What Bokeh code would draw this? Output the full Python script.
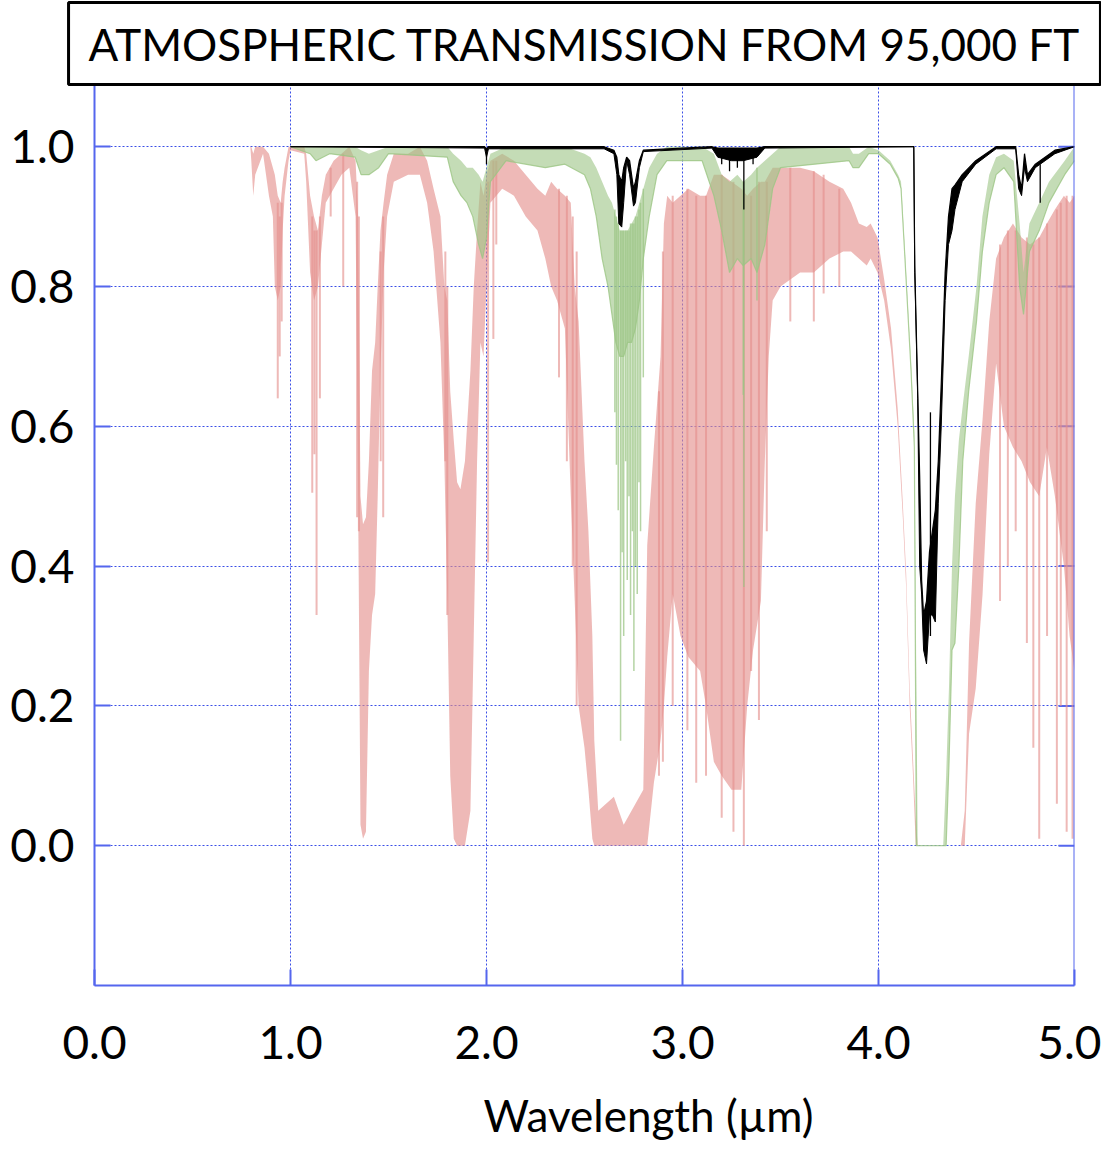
import numpy as np
from bokeh.plotting import figure
from bokeh.models import Range1d, FixedTicker, Title, Span, PrintfTickFormatter
from bokeh.embed import file_html
from bokeh.resources import INLINE

# ---------------- data ----------------
# red series: wavelength (um), upper envelope, lower envelope
red_wl = [0.795, 0.80, 0.81, 0.82, 0.86, 0.89, 0.91, 0.92, 0.935, 0.95, 0.96, 0.97, 0.99, 1.0, 1.07, 1.08,
          1.10, 1.12, 1.14, 1.16, 1.18, 1.22, 1.26, 1.30, 1.332, 1.345, 1.357, 1.37, 1.385, 1.40, 1.416,
          1.432, 1.445, 1.459, 1.475, 1.493, 1.527, 1.60, 1.66, 1.697, 1.73, 1.765, 1.785, 1.80, 1.815,
          1.833, 1.85, 1.867, 1.89, 1.918, 1.935, 1.952, 1.969, 1.985, 2.0, 2.02, 2.08, 2.14, 2.20, 2.26,
          2.30, 2.33, 2.36, 2.40, 2.43, 2.45, 2.47, 2.50, 2.52, 2.54, 2.55, 2.57, 2.65, 2.70, 2.80, 2.82,
          2.854, 2.888, 2.905, 2.922, 2.95, 2.99, 3.03, 3.09, 3.12, 3.16, 3.20, 3.25, 3.30, 3.33, 3.36,
          3.40, 3.42, 3.44, 3.46, 3.50, 3.60, 3.67, 3.75, 3.82, 3.86, 3.90, 3.94, 3.96, 3.995, 4.029,
          4.064, 4.098, 4.124, 4.141, 4.159, 4.176, 4.19, 4.20, 4.42, 4.44, 4.462, 4.496, 4.531, 4.565,
          4.60, 4.64, 4.686, 4.73, 4.773, 4.82, 4.859, 4.90, 4.946, 4.975, 5.0]
red_hi = [1.0, 1.0, 0.99, 1.0, 1.0, 0.99, 0.97, 0.96, 0.93, 0.92, 0.95, 0.97, 1.0, 1.0, 1.0, 0.99,
          0.93, 0.90, 0.88, 0.93, 0.96, 0.98, 0.99, 1.0, 0.98, 0.90, 0.50, 0.46, 0.47, 0.55, 0.68,
          0.72, 0.80, 0.88, 0.92, 0.96, 0.99, 0.99, 1.0, 0.98, 0.94, 0.90, 0.80, 0.78, 0.65,
          0.58, 0.52, 0.51, 0.55, 0.68, 0.80, 0.88, 0.95, 0.93, 0.96, 0.98, 0.99, 0.98, 0.96, 0.94,
          0.93, 0.95, 0.94, 0.93, 0.92, 0.80, 0.75, 0.55, 0.45, 0.30, 0.15, 0.05, 0.07, 0.03, 0.08, 0.43,
          0.57, 0.70, 0.89, 0.93, 0.92, 0.93, 0.94, 0.93, 0.93, 0.96, 0.96, 0.95, 0.94, 0.93, 0.94,
          0.95, 0.95, 0.96, 0.97, 0.97, 0.97, 0.965, 0.95, 0.94, 0.92, 0.89, 0.885, 0.89, 0.87, 0.81,
          0.74, 0.625, 0.49, 0.39, 0.225, 0.125, 0.04, 0.0, 0.0, 0.05, 0.29, 0.49, 0.61, 0.75,
          0.84, 0.87, 0.89, 0.87, 0.86, 0.87, 0.89, 0.91, 0.93, 0.92, 0.93]
red_lo = [1.0, 0.98, 0.93, 0.96, 0.99, 0.93, 0.90, 0.80, 0.78, 0.80, 0.88, 0.93, 0.98, 0.995, 0.99, 0.95,
          0.82, 0.78, 0.80, 0.86, 0.92, 0.94, 0.96, 0.97, 0.90, 0.50, 0.03, 0.01, 0.02, 0.25, 0.33,
          0.36, 0.50, 0.68, 0.82, 0.90, 0.95, 0.96, 0.96, 0.92, 0.85, 0.72, 0.55, 0.35, 0.10,
          0.01, 0.0, 0.0, 0.0, 0.05, 0.30, 0.55, 0.72, 0.70, 0.80, 0.92, 0.94, 0.93, 0.90, 0.88,
          0.84, 0.80, 0.78, 0.74, 0.50, 0.35, 0.20, 0.14, 0.08, 0.01, 0.0, 0.0, 0.0, 0.0, 0.0, 0.0,
          0.09, 0.15, 0.20, 0.27, 0.36, 0.30, 0.27, 0.25, 0.20, 0.12, 0.10, 0.08, 0.08, 0.20, 0.28,
          0.35, 0.55, 0.70, 0.78, 0.80, 0.82, 0.82, 0.84, 0.85, 0.85, 0.84, 0.83, 0.84, 0.82, 0.78,
          0.71, 0.60, 0.47, 0.37, 0.20, 0.10, 0.0, 0.0, 0.0, 0.0, 0.16, 0.225, 0.36, 0.56,
          0.69, 0.60, 0.57, 0.55, 0.52, 0.50, 0.57, 0.50, 0.40, 0.30, 0.25]
# individual deep lines (red): wavelength, top, bottom
red_sp_wl = [0.935, 0.945, 0.955, 1.111, 1.122, 1.133, 1.15, 1.205, 1.269, 1.34, 1.349, 1.46, 1.473,
             1.79, 1.80, 2.008, 2.035, 2.05, 2.37, 2.41, 2.44, 2.46, 2.88, 2.90, 2.95, 3.025, 3.07,
             3.12, 3.20, 3.26, 3.313, 3.35, 3.39, 3.43, 3.55, 3.67, 3.72, 3.80, 4.62, 4.66, 4.70,
             4.757, 4.79, 4.82, 4.86, 4.91, 4.93, 4.96, 4.99]
red_sp_top = [0.92, 0.90, 0.92, 0.90, 0.88, 0.88, 0.90, 0.97, 0.99, 0.95, 0.90, 0.85, 0.90,
              0.85, 0.80, 0.95, 0.98, 0.98, 0.94, 0.93, 0.90, 0.85, 0.65, 0.85, 0.93, 0.94, 0.93,
              0.93, 0.96, 0.95, 0.94, 0.93, 0.95, 0.95, 0.97, 0.965, 0.96, 0.94, 0.86, 0.88, 0.88,
              0.87, 0.86, 0.87, 0.89, 0.91, 0.92, 0.93, 0.93]
red_sp_bot = [0.64, 0.70, 0.75, 0.505, 0.56, 0.33, 0.64, 0.90, 0.80, 0.47, 0.45, 0.55, 0.47,
              0.55, 0.33, 0.405, 0.725, 0.86, 0.67, 0.55, 0.40, 0.20, 0.10, 0.12, 0.20, 0.165, 0.09,
              0.10, 0.04, 0.02, 0.0, 0.25, 0.18, 0.45, 0.75, 0.75, 0.79, 0.80, 0.35, 0.40, 0.45,
              0.29, 0.14, 0.01, 0.30, 0.06, 0.20, 0.02, 0.01]

# green series
grn_wl = [1.0, 1.10, 1.13, 1.20, 1.33, 1.36, 1.40, 1.45, 1.50, 1.80, 1.83, 1.87, 1.90, 1.93, 1.96, 1.98,
          2.0, 2.02, 2.10, 2.30, 2.40, 2.50, 2.53, 2.56, 2.59, 2.62, 2.64, 2.66, 2.68, 2.70, 2.72, 2.74,
          2.76, 2.78, 2.80, 2.83, 2.87, 2.92, 3.10, 3.16, 3.20, 3.24, 3.28, 3.31, 3.35, 3.38, 3.42,
          3.46, 3.50, 3.85, 3.87, 3.90, 3.95, 4.0, 4.06, 4.10, 4.115, 4.133, 4.166, 4.183, 4.193, 4.20,
          4.33, 4.345, 4.36, 4.375, 4.39, 4.41, 4.43, 4.46, 4.50, 4.53, 4.565, 4.60, 4.64, 4.69, 4.72,
          4.74, 4.77, 4.82, 4.87, 4.95, 5.0]
grn_hi = [1.0, 1.0, 1.0, 1.0, 1.0, 0.995, 0.99, 0.995, 1.0, 1.0, 0.99, 0.98, 0.97, 0.97, 0.96, 0.95,
          0.97, 0.99, 1.0, 1.0, 1.0, 0.99, 0.985, 0.97, 0.95, 0.93, 0.92, 0.90, 0.88, 0.88, 0.88, 0.89,
          0.90, 0.92, 0.94, 0.97, 0.99, 1.0, 1.0, 0.99, 0.96, 0.95, 0.96, 0.95, 0.96, 0.97, 0.98,
          0.99, 1.0, 1.0, 0.99, 0.99, 1.0, 0.995, 0.98, 0.96, 0.95, 0.86, 0.69, 0.59, 0.24, 0.0,
          0.0, 0.10, 0.23, 0.40, 0.50, 0.58, 0.63, 0.70, 0.80, 0.90, 0.96, 0.985, 0.99, 0.98, 0.89,
          0.82, 0.89, 0.92, 0.95, 0.98, 1.0]
grn_lo = [1.0, 0.99, 0.98, 0.99, 0.985, 0.96, 0.96, 0.97, 0.99, 0.985, 0.95, 0.93, 0.92, 0.90, 0.86, 0.84,
          0.87, 0.95, 0.98, 0.97, 0.975, 0.96, 0.94, 0.90, 0.84, 0.80, 0.76, 0.72, 0.70, 0.70, 0.72, 0.72,
          0.74, 0.78, 0.84, 0.90, 0.96, 0.98, 0.98, 0.93, 0.88, 0.82, 0.84, 0.83, 0.84, 0.82, 0.86,
          0.94, 0.97, 0.98, 0.97, 0.97, 0.99, 0.99, 0.975, 0.955, 0.94, 0.85, 0.68, 0.57, 0.0, 0.0,
          0.0, 0.0, 0.12, 0.28, 0.29, 0.40, 0.55, 0.65, 0.75, 0.85, 0.92, 0.96, 0.97, 0.95, 0.80,
          0.76, 0.85, 0.88, 0.92, 0.96, 0.98]
grn_sp_wl = [2.655, 2.663, 2.672, 2.684, 2.692, 2.70, 2.71, 2.718, 2.727, 2.735, 2.744, 2.752, 2.76,
             2.769, 2.778, 2.786, 2.80, 3.31, 3.313, 3.38]
grn_sp_top = [0.91, 0.90, 0.89, 0.88, 0.88, 0.88, 0.88, 0.88, 0.88, 0.89, 0.89, 0.89, 0.90,
              0.90, 0.91, 0.92, 0.94, 0.95, 0.95, 0.97]
grn_sp_bot = [0.62, 0.545, 0.48, 0.15, 0.42, 0.30, 0.55, 0.38, 0.50, 0.33, 0.45, 0.25, 0.40,
              0.36, 0.52, 0.45, 0.67, 0.645, 0.37, 0.78]

# black series (95,000 ft)
blk_wl = [1.0, 1.99, 2.0, 2.01, 2.60, 2.65, 2.665, 2.675, 2.69, 2.70, 2.715, 2.73, 2.75, 2.76, 2.78,
          2.80, 3.15, 3.18, 3.25, 3.31, 3.38, 3.42, 4.18, 4.185, 4.20, 4.21, 4.22, 4.23, 4.245, 4.26,
          4.275, 4.29, 4.305, 4.32, 4.34, 4.357, 4.375, 4.39, 4.427, 4.496, 4.60, 4.70, 4.715, 4.73,
          4.745, 4.76, 4.80, 4.85, 4.90, 5.0]
blk_hi = [1.0, 1.0, 0.997, 1.0, 1.0, 0.995, 0.985, 0.96, 0.95, 0.97, 0.985, 0.98, 0.94, 0.95, 0.98,
          0.995, 1.0, 0.998, 0.998, 0.998, 0.998, 1.0, 1.0, 0.83, 0.65, 0.53, 0.38, 0.33, 0.35, 0.42,
          0.45, 0.48, 0.55, 0.66, 0.82, 0.90, 0.94, 0.945, 0.96, 0.98, 1.0, 1.0, 0.96, 0.94,
          0.99, 0.96, 0.975, 0.985, 0.995, 1.0]
blk_lo = [1.0, 0.998, 0.985, 0.997, 0.997, 0.99, 0.96, 0.89, 0.885, 0.92, 0.98, 0.96, 0.915, 0.92, 0.97,
          0.993, 0.998, 0.985, 0.98, 0.98, 0.985, 0.998, 1.0, 0.82, 0.64, 0.40, 0.36, 0.28, 0.26, 0.33,
          0.33, 0.32, 0.49, 0.60, 0.78, 0.86, 0.88, 0.91, 0.95, 0.975, 0.997, 0.997, 0.94, 0.93,
          0.97, 0.95, 0.97, 0.98, 0.99, 1.0]
blk_sp_wl = [2.0, 3.20, 3.24, 3.28, 3.313, 3.36, 4.265, 4.825]
blk_sp_top = [0.99, 0.995, 0.995, 0.995, 0.995, 0.995, 0.62, 0.975]
blk_sp_bot = [0.975, 0.975, 0.965, 0.97, 0.91, 0.975, 0.30, 0.92]

x_ticks = [0, 1, 2, 3, 4, 5]
y_ticks = [0.0, 0.2, 0.4, 0.6, 0.8, 1.0]
title_text = "ATMOSPHERIC TRANSMISSION FROM 95,000 FT"
x_title = "Wavelength (µm)"

# ---------------- styling ----------------
BLUE = "#5566ee"
GRID = "#3a4ee6"
RED = "#e38e8b"
GREEN = "#9cc585"
FONT = "Lato"

p = figure(width=1101, height=1152, output_backend="svg", toolbar_location=None,
           x_range=Range1d(0, 5), y_range=Range1d(-0.2, 1.089),
           frame_width=980, frame_height=901,
           min_border_left=94, min_border_top=20, min_border_right=27, min_border_bottom=0)
p.background_fill_color = "white"
p.border_fill_color = "white"
p.outline_line_color = None

# title box on top
p.title = Title(text=title_text, align="center", text_font=FONT, text_font_size="44px",
                text_font_style="normal", text_color="black",
                border_line_color="black", border_line_width=3, background_fill_color="white",
                padding=(20, 15), standoff=0, offset=-4)

# axes
p.xaxis.ticker = FixedTicker(ticks=x_ticks)
p.yaxis.ticker = FixedTicker(ticks=y_ticks)
p.xaxis.formatter = PrintfTickFormatter(format="%.1f")
p.yaxis.formatter = PrintfTickFormatter(format="%.1f")
for ax in (p.xaxis[0], p.yaxis[0]):
    ax.axis_line_color = BLUE
    ax.axis_line_width = 2
    ax.major_tick_in = 16
    ax.major_tick_out = 0
    ax.major_tick_line_color = BLUE
    ax.major_tick_line_width = 2
    ax.minor_tick_line_color = None
    ax.major_label_text_font = FONT
    ax.major_label_text_font_size = "46px"
    ax.major_label_text_color = "black"
p.yaxis.major_label_standoff = 20
p.xaxis.major_label_standoff = 40

# x-axis title, shifted right as in the reference
p.add_layout(Title(text=x_title, align="left", offset=389, text_font=FONT,
                   text_font_size="44px", text_font_style="normal", text_color="black",
                   standoff=50), "below")

# right frame edge and inner ticks
p.add_layout(Span(location=5, dimension="height", line_color=BLUE, line_width=2))
p.ray(x=[x_ticks[-1]] * len(y_ticks), y=y_ticks, length=16, length_units="screen", angle=np.pi,
      line_color=BLUE, line_width=2)

p.xgrid.ticker = FixedTicker(ticks=[1, 2, 3, 4])
p.ygrid.ticker = FixedTicker(ticks=y_ticks)
for g in (p.xgrid[0], p.ygrid[0]):
    g.grid_line_color = GRID
    g.grid_line_width = 1
    g.grid_line_dash = "2 2"
    g.grid_line_alpha = 1.0

# spectra
p.varea(x=red_wl, y1=red_lo, y2=red_hi, fill_color=RED, fill_alpha=0.62)
p.segment(x0=red_sp_wl, y0=red_sp_top, x1=red_sp_wl, y1=red_sp_bot, line_color=RED, line_alpha=0.62, line_width=2)
p.varea(x=grn_wl, y1=grn_lo, y2=grn_hi, fill_color=GREEN, fill_alpha=0.6)
p.line(x=grn_wl, y=grn_lo, line_color=GREEN, line_alpha=0.8, line_width=1.2)
p.segment(x0=grn_sp_wl, y0=grn_sp_top, x1=grn_sp_wl, y1=grn_sp_bot, line_color=GREEN, line_alpha=0.75, line_width=1.5)
p.varea(x=blk_wl, y1=blk_lo, y2=blk_hi, fill_color="black")
p.line(x=blk_wl, y=blk_hi, line_color="black", line_width=1.2)
p.line(x=blk_wl, y=blk_lo, line_color="black", line_width=1.0)
p.segment(x0=blk_sp_wl, y0=blk_sp_top, x1=blk_sp_wl, y1=blk_sp_bot, line_color="black", line_width=1.3)

open("out.html", "w").write(file_html(p, INLINE))
